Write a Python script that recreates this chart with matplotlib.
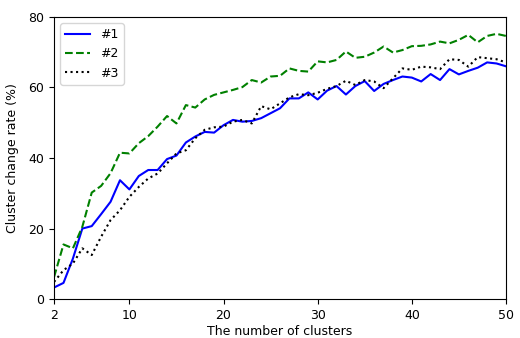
import matplotlib
matplotlib.use("Agg")
import matplotlib.pyplot as plt

clusters = list(range(2, 51))
series1 = [3.3, 4.6, 11.5, 20.0, 20.7, 24.1, 27.6, 33.7, 31.1, 34.9, 36.6, 36.6, 39.7, 40.7,
           44.4, 46.1, 47.4, 47.2, 49.3, 50.8, 50.3, 50.5, 51.3, 52.7, 54.1, 56.9, 56.9, 58.6,
           56.6, 59.1, 60.4, 58.0, 60.4, 61.8, 59.0, 61.0, 62.1, 63.1, 62.8, 61.7, 63.8, 62.1,
           65.2, 63.7, 64.7, 65.6, 67.1, 66.8, 66.0]
series2 = [6.3, 15.5, 14.4, 20.5, 30.2, 32.1, 35.7, 41.5, 41.3, 44.2, 46.2, 48.9, 51.9, 49.8,
           55.0, 54.3, 56.6, 57.9, 58.6, 59.3, 60.1, 62.1, 61.4, 63.1, 63.3, 65.4, 64.7, 64.5,
           67.4, 67.1, 67.8, 70.2, 68.4, 68.7, 69.9, 71.6, 69.9, 70.6, 71.7, 71.8, 72.2, 73.0,
           72.5, 73.5, 74.9, 72.8, 74.6, 75.2, 74.6]
series3 = [4.9, 8.2, 10.1, 14.4, 12.5, 17.7, 22.4, 25.2, 29.0, 31.8, 34.2, 35.6, 38.5, 41.3,
           42.2, 45.6, 48.0, 48.7, 48.9, 50.3, 50.8, 49.8, 54.7, 53.8, 55.5, 57.2, 58.1, 57.8,
           58.5, 59.6, 60.4, 61.9, 60.7, 62.1, 61.7, 59.8, 62.6, 65.4, 65.0, 65.9, 65.7, 65.2,
           68.0, 67.8, 65.9, 68.6, 68.3, 68.0, 67.1]
labels = ["#1", "#2", "#3"]
xticks = [2, 10, 20, 30, 40, 50]
yticks = [0, 20, 40, 60, 80]

fig = plt.figure(figsize=(5.2, 3.38), dpi=100)
ax = fig.add_axes([0.104, 0.115, 0.869, 0.835])
ax.plot(clusters, series1, color="blue", linestyle="-", linewidth=1.5, label=labels[0])
ax.plot(clusters, series2, color="green", linestyle="--", linewidth=1.5, label=labels[1])
ax.plot(clusters, series3, color="black", linestyle=":", linewidth=1.5, label=labels[2])
ax.set_xlim(2, 50)
ax.set_ylim(0, 80)
ax.set_xticks(xticks)
ax.set_yticks(yticks)
ax.tick_params(labelsize=9)
ax.set_xlabel("The number of clusters", fontsize=9, labelpad=2.5)
ax.set_ylabel("Cluster change rate (%)", fontsize=9, labelpad=7)
ax.legend(loc="upper left", fontsize=9)
fig.savefig("out.png", dpi=100)
